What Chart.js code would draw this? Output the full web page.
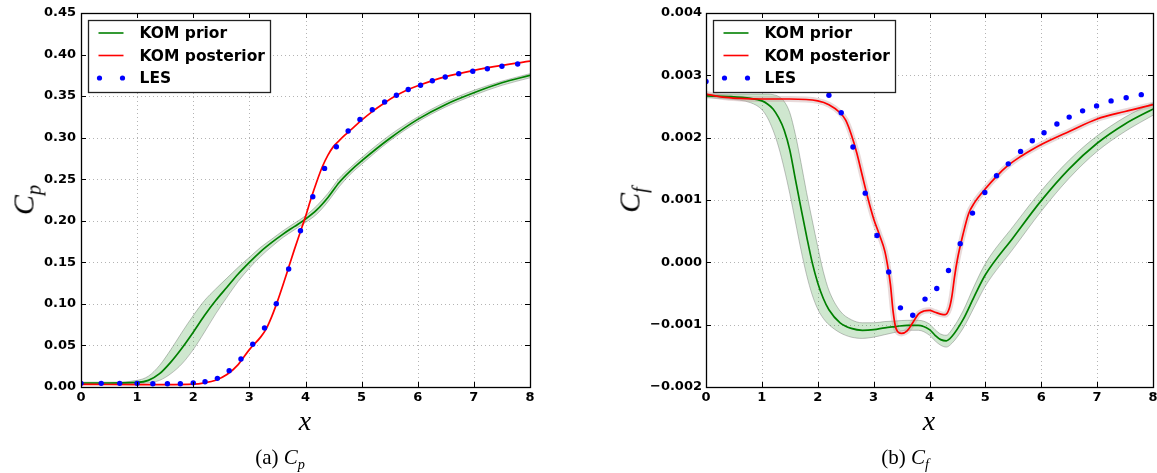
<!DOCTYPE html>
<html>
<head>
<meta charset="utf-8">
<script src="https://cdn.jsdelivr.net/npm/chart.js@4/dist/chart.umd.min.js"></script>
<style>
  body { margin: 0; background: #fff; width: 1157px; height: 473px; overflow: hidden; position: relative; }
  canvas { position: absolute; top: 0; }
  #cpChart { left: 0; }
  #cfChart { left: 590px; }
  .lbl { position: absolute; font-family: "Liberation Serif", serif; color: #000; white-space: nowrap; }
  .ytitle { transform: translate(-50%, -50%) rotate(-90deg); font-size: 30px; font-style: italic; }
  .xtitle { transform: translate(-50%, -50%); font-size: 28px; font-style: italic; }
  .cap { transform: translate(-50%, -50%); font-size: 21px; }
  sub { font-size: 0.68em; }
</style>
</head>
<body>
<canvas id="cpChart" width="560" height="410"></canvas>
<canvas id="cfChart" width="580" height="410"></canvas>
<div class="lbl ytitle" style="left:26px; top:200px;">C<sub>p</sub></div>
<div class="lbl ytitle" style="left:632px; top:200px;">C<sub>f</sub></div>
<div class="lbl xtitle" style="left:305px; top:421px;">x</div>
<div class="lbl xtitle" style="left:929px; top:421px;">x</div>
<div class="lbl cap" style="left:280px; top:459px;">(a) <i>C<sub>p</sub></i></div>
<div class="lbl cap" style="left:905px; top:459px;">(b) <i>C<sub>f</sub></i></div>
<script>
// ---- data (a) Cp ----
const legendLabels = ["KOM prior", "KOM posterior", "LES"];

const cpPriorX = [0, 0.5, 1.0, 1.2, 1.4, 1.6, 1.8, 2.0, 2.2, 2.4, 2.6, 2.8, 3.0, 3.2, 3.4, 3.6, 3.8, 4.0, 4.2, 4.4, 4.6, 4.8, 5.0, 5.5, 6.0, 6.5, 7.0, 7.5, 8.0];
const cpPrior   = [0.0048, 0.0048, 0.0055, 0.008, 0.016, 0.030, 0.047, 0.066, 0.086, 0.104, 0.120, 0.136, 0.150, 0.163, 0.174, 0.184, 0.193, 0.202, 0.213, 0.228, 0.246, 0.260, 0.272, 0.299, 0.322, 0.340, 0.354, 0.366, 0.375];
const cpPriorLo = [0.0040, 0.0040, 0.0042, 0.005, 0.008, 0.016, 0.028, 0.045, 0.066, 0.088, 0.108, 0.127, 0.143, 0.157, 0.169, 0.180, 0.189, 0.198, 0.208, 0.223, 0.241, 0.256, 0.268, 0.296, 0.319, 0.337, 0.351, 0.363, 0.372];
const cpPriorHi = [0.0058, 0.0058, 0.0080, 0.013, 0.026, 0.045, 0.066, 0.086, 0.104, 0.118, 0.131, 0.144, 0.156, 0.168, 0.178, 0.188, 0.197, 0.206, 0.218, 0.233, 0.251, 0.264, 0.276, 0.303, 0.325, 0.343, 0.357, 0.368, 0.377];

const cpPostX = [0, 0.5, 1.0, 1.5, 2.0, 2.2, 2.4, 2.6, 2.8, 3.0, 3.2, 3.3, 3.4, 3.5, 3.6, 3.7, 3.8, 3.9, 4.0, 4.1, 4.2, 4.3, 4.4, 4.5, 4.6, 4.7, 4.8, 5.0, 5.2, 5.4, 5.6, 5.8, 6.0, 6.5, 7.0, 7.5, 8.0];
const cpPost  = [0.0032, 0.0030, 0.0029, 0.0029, 0.0034, 0.0050, 0.0082, 0.0150, 0.0270, 0.0450, 0.0600, 0.0700, 0.0850, 0.1030, 0.1230, 0.1440, 0.1650, 0.1850, 0.2050, 0.2270, 0.2470, 0.2650, 0.2790, 0.2895, 0.2965, 0.3030, 0.3090, 0.3210, 0.3320, 0.3415, 0.3500, 0.3570, 0.3625, 0.3735, 0.3810, 0.3870, 0.3920];

const cpLesX = [0, 0.36, 0.69, 1.0, 1.28, 1.54, 1.77, 2.0, 2.21, 2.43, 2.64, 2.85, 3.06, 3.27, 3.48, 3.70, 3.91, 4.13, 4.34, 4.55, 4.76, 4.97, 5.19, 5.41, 5.62, 5.83, 6.05, 6.26, 6.49, 6.73, 6.98, 7.24, 7.50, 7.78];
const cpLes  = [0.0044, 0.0044, 0.0044, 0.0044, 0.0040, 0.0040, 0.0040, 0.0050, 0.0064, 0.0104, 0.0197, 0.0337, 0.0514, 0.071, 0.1003, 0.142, 0.188, 0.229, 0.263, 0.289, 0.308, 0.322, 0.3336, 0.343, 0.351, 0.358, 0.363, 0.3685, 0.373, 0.377, 0.380, 0.383, 0.386, 0.3886];

// ---- data (b) Cf ----
const cfPriorX = [0, 0.4, 0.8, 1.0, 1.1, 1.2, 1.3, 1.4, 1.5, 1.6, 1.7, 1.8, 1.9, 2.0, 2.1, 2.2, 2.4, 2.6, 2.8, 3.0, 3.2, 3.4, 3.6, 3.8, 4.0, 4.1, 4.2, 4.3, 4.4, 4.6, 4.8, 5.0, 5.5, 6.0, 6.5, 7.0, 7.5, 8.0];
const cfPrior   = [0.00267, 0.00266, 0.00263, 0.00259, 0.00254, 0.00246, 0.00232, 0.00212, 0.00180, 0.00133, 0.00087, 0.00042, 0.00000, -0.00033, -0.00058, -0.00076, -0.00097, -0.00106, -0.00109, -0.00108, -0.00105, -0.00103, -0.00101, -0.00101, -0.00108, -0.00117, -0.00124, -0.00126, -0.00119, -0.00092, -0.00055, -0.00020, 0.00040, 0.00099, 0.00150, 0.00191, 0.00222, 0.00246];
const cfPriorLo = [0.00264, 0.00262, 0.00256, 0.00245, 0.00232, 0.00212, 0.00185, 0.00150, 0.00110, 0.00065, 0.00020, -0.00020, -0.00052, -0.00075, -0.00090, -0.00100, -0.00113, -0.00120, -0.00122, -0.00120, -0.00116, -0.00112, -0.00109, -0.00109, -0.00117, -0.00126, -0.00133, -0.00136, -0.00130, -0.00106, -0.00072, -0.00038, 0.00022, 0.00082, 0.00135, 0.00178, 0.00210, 0.00236];
const cfPriorHi = [0.00270, 0.00270, 0.00270, 0.00270, 0.00270, 0.00269, 0.00266, 0.00258, 0.00240, 0.00205, 0.00160, 0.00112, 0.00068, 0.00025, -0.00015, -0.00045, -0.00078, -0.00092, -0.00097, -0.00097, -0.00095, -0.00094, -0.00093, -0.00093, -0.00099, -0.00108, -0.00115, -0.00117, -0.00108, -0.00078, -0.00038, -0.00002, 0.00058, 0.00115, 0.00164, 0.00203, 0.00233, 0.00256];

const cfPostX = [0, 0.3, 0.6, 1.0, 1.5, 2.0, 2.2, 2.4, 2.5, 2.6, 2.7, 2.8, 2.9, 3.0, 3.1, 3.2, 3.25, 3.3, 3.35, 3.4, 3.5, 3.6, 3.7, 3.8, 3.9, 4.0, 4.1, 4.2, 4.28, 4.35, 4.4, 4.45, 4.5, 4.6, 4.7, 4.8, 5.0, 5.2, 5.4, 5.6, 5.8, 6.0, 6.5, 7.0, 7.5, 8.0];
const cfPost  = [0.00270, 0.00265, 0.00263, 0.00262, 0.00262, 0.00259, 0.00253, 0.00240, 0.00228, 0.00205, 0.00175, 0.00138, 0.00102, 0.00070, 0.00045, 0.00018, -0.00005, -0.00035, -0.00080, -0.00106, -0.00114, -0.00110, -0.00097, -0.00083, -0.00078, -0.00077, -0.00080, -0.00083, -0.00084, -0.00075, -0.00055, -0.00022, 0.00005, 0.00045, 0.00078, 0.00095, 0.00118, 0.00138, 0.00155, 0.00168, 0.00179, 0.00189, 0.00210, 0.00230, 0.00242, 0.00253];

const cfLesX = [0, 0.36, 0.69, 1.0, 1.28, 1.55, 1.77, 2.0, 2.2, 2.42, 2.63, 2.85, 3.06, 3.27, 3.48, 3.70, 3.92, 4.13, 4.34, 4.55, 4.77, 4.99, 5.2, 5.41, 5.63, 5.84, 6.05, 6.28, 6.5, 6.74, 6.99, 7.25, 7.52, 7.79];
const cfLes  = [0.0029, 0.0029, 0.0029, 0.00289, 0.00288, 0.00287, 0.00285, 0.00282, 0.00268, 0.0024, 0.00185, 0.00111, 0.00043, -0.000155, -0.00073, -0.00085, -0.00059, -0.00042, -0.00013, 0.0003, 0.00079, 0.00112, 0.00139, 0.00158, 0.00178, 0.00195, 0.00208, 0.00222, 0.00233, 0.00243, 0.00251, 0.00259, 0.00264, 0.00269];

// ---- helpers ----
const GREEN = "#008000", RED = "#ff0000", BLUE = "#0000ff";
const tickFont = { family: "DejaVu Sans", weight: "bold", size: 13 };

function pts(xs, ys) {
  return xs.map((x, i) => ({ x: x, y: ys[i] }));
}

function drawGrid(chart) {
  const { ctx, chartArea: a, scales } = chart;
  ctx.save();
  ctx.strokeStyle = "#b4b4b4";
  ctx.lineWidth = 1;
  ctx.setLineDash([1, 3]);
  scales.x.ticks.forEach((t) => {
    const px = Math.round(scales.x.getPixelForValue(t.value)) + 0.5;
    if (px < a.left + 2 || px > a.right - 2) return;
    ctx.beginPath(); ctx.moveTo(px, a.top); ctx.lineTo(px, a.bottom); ctx.stroke();
  });
  scales.y.ticks.forEach((t) => {
    const py = Math.round(scales.y.getPixelForValue(t.value)) + 0.5;
    if (py < a.top + 2 || py > a.bottom - 2) return;
    ctx.beginPath(); ctx.moveTo(a.left, py); ctx.lineTo(a.right, py); ctx.stroke();
  });
  ctx.restore();
}

function drawLegend(chart) {
  const { ctx, chartArea: a } = chart;
  const bx = a.left + 7.5, by = a.top + 7.5, bw = 182, bh = 72;
  const colors = [GREEN, RED, BLUE];
  ctx.save();
  ctx.fillStyle = "#fff";
  ctx.fillRect(bx, by, bw, bh);
  ctx.strokeStyle = "#222";
  ctx.lineWidth = 1.3;
  ctx.strokeRect(bx, by, bw, bh);
  ctx.font = 'bold 15.5px "DejaVu Sans"';
  ctx.textBaseline = "middle";
  legendLabels.forEach((label, i) => {
    const y = by + 12.5 + i * 22.5;
    if (i === 2) {
      ctx.fillStyle = colors[i];
      [bx + 11, bx + 34].forEach((cx) => {
        ctx.beginPath(); ctx.arc(cx, y, 2.6, 0, Math.PI * 2); ctx.fill();
      });
    } else {
      ctx.strokeStyle = colors[i];
      ctx.lineWidth = 1.6;
      ctx.beginPath(); ctx.moveTo(bx + 10, y); ctx.lineTo(bx + 35, y); ctx.stroke();
    }
    ctx.fillStyle = "#000";
    ctx.fillText(label, bx + 51, y + 1);
  });
  ctx.restore();
}

function drawFrame(chart) {
  const { ctx, chartArea: a, scales } = chart;
  ctx.save();
  ctx.strokeStyle = "#000";
  ctx.lineWidth = 1.3;
  ctx.strokeRect(a.left + 0.5, a.top + 0.5, a.right - a.left, a.bottom - a.top);
  ctx.lineWidth = 1;
  const len = 5;
  scales.x.ticks.forEach((t) => {
    const px = Math.round(scales.x.getPixelForValue(t.value)) + 0.5;
    ctx.beginPath();
    ctx.moveTo(px, a.bottom); ctx.lineTo(px, a.bottom - len);
    ctx.moveTo(px, a.top); ctx.lineTo(px, a.top + len);
    ctx.stroke();
  });
  scales.y.ticks.forEach((t) => {
    const py = Math.round(scales.y.getPixelForValue(t.value)) + 0.5;
    ctx.beginPath();
    ctx.moveTo(a.left, py); ctx.lineTo(a.left + len, py);
    ctx.moveTo(a.right, py); ctx.lineTo(a.right - len, py);
    ctx.stroke();
  });
  ctx.restore();
}

const framePlugin = {
  id: "frame",
  beforeDatasetsDraw: drawGrid,
  afterDatasetsDraw: drawLegend,
  afterDraw: drawFrame
};

function makeDatasets(priorX, prior, lo, hi, postX, post, lesX, les, halo) {
  const line = { pointRadius: 0, cubicInterpolationMode: "monotone", clip: 0, fill: false };
  const sets = [
    Object.assign({}, line, { data: pts(priorX, lo), borderColor: "rgba(120,120,120,0.45)", borderWidth: 1, fill: "+1", backgroundColor: "rgba(0,128,0,0.19)", order: 6 }),
    Object.assign({}, line, { data: pts(priorX, hi), borderColor: "rgba(120,120,120,0.45)", borderWidth: 1, order: 6 }),
    Object.assign({}, line, { data: pts(priorX, prior), borderColor: GREEN, borderWidth: 1.7, order: 3 }),
    Object.assign({}, line, { data: pts(postX, post), borderColor: RED, borderWidth: 1.7, order: 2 }),
    { data: pts(lesX, les), showLine: false, pointRadius: 2.7, pointBorderWidth: 0, pointBackgroundColor: BLUE, backgroundColor: BLUE, clip: 0, order: 1 }
  ];
  if (halo) {
    sets.push(Object.assign({}, line, { data: pts(postX, post), borderColor: "rgba(190,150,150,0.35)", borderWidth: 6, order: 5 }));
  }
  return sets;
}

function makeOptions(ymin, ymax, ystep, fmt, yWidth, padRight, yPad) {
  return {
    responsive: false,
    devicePixelRatio: 1,
    animation: false,
    events: [],
    layout: { padding: { top: 13, right: padRight, left: 0, bottom: 0 } },
    plugins: { legend: { display: false }, tooltip: { enabled: false } },
    scales: {
      x: {
        type: "linear", min: 0, max: 8,
        ticks: { stepSize: 1, color: "#000", font: tickFont, padding: 3, maxRotation: 0, autoSkip: false },
        grid: { display: false, drawTicks: false },
        border: { display: false },
        afterFit(s) { s.height = 23; }
      },
      y: {
        type: "linear", min: ymin, max: ymax,
        ticks: { stepSize: ystep, color: "#000", font: tickFont, padding: yPad, autoSkip: false, callback: fmt },
        grid: { display: false, drawTicks: false },
        border: { display: false },
        afterFit(s) { s.width = yWidth; }
      }
    }
  };
}

new Chart(document.getElementById("cpChart"), {
  type: "line",
  data: { datasets: makeDatasets(cpPriorX, cpPrior, cpPriorLo, cpPriorHi, cpPostX, cpPost, cpLesX, cpLes, false) },
  options: makeOptions(0, 0.45, 0.05, (v) => v.toFixed(2), 81, 30, 5),
  plugins: [framePlugin]
});

new Chart(document.getElementById("cfChart"), {
  type: "line",
  data: { datasets: makeDatasets(cfPriorX, cfPrior, cfPriorLo, cfPriorHi, cfPostX, cfPost, cfLesX, cfLes, true) },
  options: makeOptions(-0.002, 0.004, 0.001, (v) => (v < -1e-9 ? "\u2212" : "") + Math.abs(v).toFixed(3), 116, 17, 4),
  plugins: [framePlugin]
});
</script>
</body>
</html>
